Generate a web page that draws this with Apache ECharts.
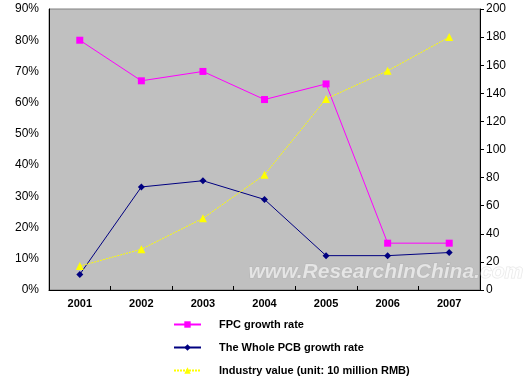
<!DOCTYPE html>
<html><head><meta charset="utf-8">
<script src="https://cdn.jsdelivr.net/npm/echarts@6/dist/echarts.min.js"></script>
<style>html,body{margin:0;padding:0;background:#fff}#c{width:525px;height:381px}</style>
</head><body><div id="c"></div>
<script>
var years = ['2001','2002','2003','2004','2005','2006','2007'];
var fpcGrowth = [80, 67, 70, 61, 66, 15, 15];
var pcbGrowth = [5, 33, 35, 29, 11, 11, 12];
var industryValue = [17, 29, 51, 82, 136, 156, 180];
var pctTicks = {min: 0, max: 90, interval: 10};
var valTicks = {min: 0, max: 200, interval: 20};

var chart = echarts.init(document.getElementById('c'), null, {renderer: 'canvas'});
var font = 'Liberation Sans, Arial, sans-serif';
chart.setOption({
  animation: false,
  textStyle: {fontFamily: font},
  grid: {left: 49, right: 45, top: 9, bottom: 91, show: true, backgroundColor: '#C0C0C0', borderColor: '#808080', borderWidth: 1},
  xAxis: {
    type: 'category', data: years, boundaryGap: true,
    axisLine: {lineStyle: {color: '#000', width: 1}},
    axisTick: {show: true, inside: true, length: 4, lineStyle: {color: '#000'}},
    axisLabel: {color: '#000', fontWeight: 'bold', fontSize: 11, margin: 8, fontFamily: font},
    splitLine: {show: false}
  },
  yAxis: [{
    type: 'value', min: pctTicks.min, max: pctTicks.max, interval: pctTicks.interval,
    axisLine: {show: true, lineStyle: {color: '#000'}},
    axisTick: {show: false},
    axisLabel: {color: '#000', fontSize: 12, margin: 10, formatter: '{value}%', fontFamily: font},
    splitLine: {show: false}
  }, {
    type: 'value', min: valTicks.min, max: valTicks.max, interval: valTicks.interval, position: 'right',
    axisLine: {show: true, lineStyle: {color: '#000'}},
    axisTick: {show: true, length: 4, lineStyle: {color: '#000'}},
    axisLabel: {color: '#000', fontSize: 12, margin: 6, fontFamily: font},
    splitLine: {show: false}
  }],
  legend: {
    orient: 'vertical', left: 173, top: 319, itemWidth: 27, itemHeight: 8, itemGap: 12, padding: 0,
    textStyle: {color: '#000', fontWeight: 'bold', fontSize: 11, fontFamily: font, padding: [0,0,0,13]},
    data: ['FPC growth rate', 'The Whole PCB growth rate', 'Industry value (unit: 10 million RMB)']
  },
  series: [{
    name: 'FPC growth rate', type: 'line', data: fpcGrowth, yAxisIndex: 0,
    symbol: 'rect', symbolSize: 7, itemStyle: {color: '#FF00FF'}, lineStyle: {color: '#FF00FF', width: 1}
  }, {
    name: 'The Whole PCB growth rate', type: 'line', data: pcbGrowth, yAxisIndex: 0,
    symbol: 'diamond', symbolSize: 7, itemStyle: {color: '#000080'}, lineStyle: {color: '#000080', width: 1}
  }, {
    name: 'Industry value (unit: 10 million RMB)', type: 'line', data: industryValue, yAxisIndex: 1,
    symbol: 'triangle', symbolSize: 8, itemStyle: {color: '#FFFF00'}, lineStyle: {color: '#FFFF00', width: 1, type: [2, 1]}
  }],
  graphic: [{
    type: 'text', left: 248, top: 261, z: 100,
    style: {text: 'www.ResearchInChina.com', fill: 'rgba(255,255,255,0.6)',
      stroke: 'rgba(150,150,150,0.25)', lineWidth: 1,
      font: 'italic bold 21px Liberation Sans, Arial, sans-serif'}
  }]
});
</script></body></html>
